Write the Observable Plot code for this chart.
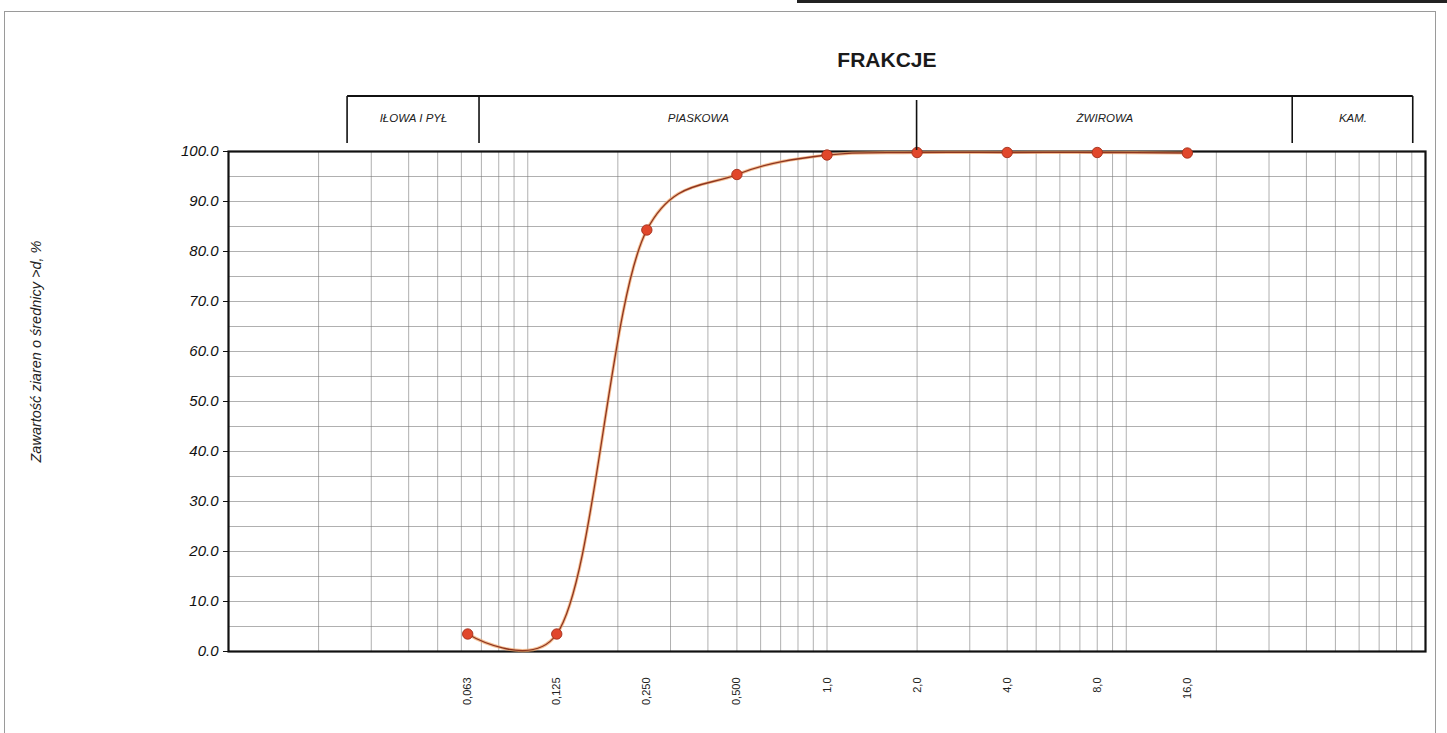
<!DOCTYPE html>
<html lang="pl">
<head>
<meta charset="utf-8">
<script src="https://cdn.jsdelivr.net/npm/d3@7"></script>
<script src="https://cdn.jsdelivr.net/npm/@observablehq/plot@0.6"></script>
<style>
  html, body { margin: 0; padding: 0; background: #fff; }
  #chart { position: relative; width: 1447px; height: 733px; overflow: hidden; }
  #chart svg { display: block; }
</style>
</head>
<body>
<div id="chart"></div>
<script>
// Sieve diameters d [mm] and grain content [%]
const diameters = [0.063, 0.125, 0.25, 0.5, 1.0, 2.0, 4.0, 8.0, 16.0];
const content   = [3.5, 3.5, 84.3, 95.4, 99.3, 99.8, 99.8, 99.8, 99.7];

// Diameter tick labels (Polish decimal comma)
const diameterLabels = ["0,063", "0,125", "0,250", "0,500", "1,0", "2,0", "4,0", "8,0", "16,0"];

// Y axis ticks
const yTicks = [0, 10, 20, 30, 40, 50, 60, 70, 80, 90, 100];
const yGrid  = [5, 10, 15, 20, 25, 30, 35, 40, 45, 50, 55, 60, 65, 70, 75, 80, 85, 90, 95];

// Fraction bands shown in the header bracket
const fractionNames = ["IŁOWA I PYŁ", "PIASKOWA", "ŻWIROWA", "KAM."];
const fractionEdges = [0.025, 0.069, 2.0, 36, 91];

const title  = "FRAKCJE";
const yTitle = "Zawartość ziaren o średnicy >d, %";

const points = diameters.map((d, i) => ({d, p: content[i]}));
const ticks  = diameters.map((d, i) => ({d, label: diameterLabels[i]}));
const bands  = fractionNames.map((name, i) => ({
  name, mid: Math.sqrt(fractionEdges[i] * fractionEdges[i + 1])
}));

const font = "'Liberation Sans', Arial, Helvetica, sans-serif";

const chart = Plot.plot({
  width: 1447,
  height: 733,
  marginLeft: 228,
  marginRight: 22,
  marginTop: 151,
  marginBottom: 82,
  style: {fontFamily: font, background: "#fff", color: "#111", overflow: "visible"},
  x: {type: "log", domain: [0.01, 100], axis: null},
  y: {domain: [0, 100], axis: null},
  marks: [
    Plot.gridX({ticks: 40, stroke: "#7a7a7a", strokeOpacity: 0.7, strokeWidth: 0.85}),
    Plot.gridY(yGrid, {stroke: "#7a7a7a", strokeOpacity: 0.7, strokeWidth: 0.85}),
    Plot.axisY(yTicks, {
      tickFormat: d => d.toFixed(1),
      fontSize: 15, fontStyle: "italic", tickSize: 5, tickPadding: 5,
      label: null, stroke: "#111"
    }),
    Plot.frame({stroke: "#111", strokeWidth: 2.2}),
    // diameter labels under the plot, rotated
    Plot.text(ticks, {
      x: "d", text: "label", frameAnchor: "bottom", dy: 26,
      rotate: -90, textAnchor: "end", lineAnchor: "middle",
      fontSize: 11, fill: "#222"
    }),
    // y axis title
    Plot.text([yTitle], {
      frameAnchor: "left", dx: -192, dy: -50, rotate: -90,
      textAnchor: "middle", lineAnchor: "middle",
      fontSize: 14.5, fontStyle: "italic", fill: "#222"
    }),
    // fraction names
    Plot.text(bands, {
      x: "mid", text: "name", frameAnchor: "top", dy: -38,
      fontSize: 11.5, fontStyle: "italic", fill: "#222"
    }),
    // grading curve: soft halo + core line
    Plot.line(points, {
      x: "d", y: "p", curve: "catmull-rom", tension: 0.25,
      stroke: "#f0a264", strokeWidth: 3.2, strokeOpacity: 0.7
    }),
    Plot.line(points, {
      x: "d", y: "p", curve: "catmull-rom", tension: 0.25,
      stroke: "#8e3520", strokeWidth: 1.3
    }),
    Plot.dot(points, {
      x: "d", y: "p", r: 5.2, fill: "#e1472b", stroke: "#a3301c", strokeWidth: 0.9
    })
  ]
});

document.getElementById("chart").appendChild(chart);

// Header bracket above the plot, positioned through the x scale
const sx = chart.scale("x");
const svg = d3.select(chart);
const ex = fractionEdges.map(v => sx.apply(v));
const g = svg.append("g").attr("stroke", "#111").attr("fill", "none");
g.append("line")
  .attr("x1", ex[0]).attr("x2", ex[ex.length - 1])
  .attr("y1", 96).attr("y2", 96).attr("stroke-width", 2);
ex.forEach((x, i) => {
  g.append("line")
    .attr("x1", x).attr("x2", x)
    .attr("y1", i === 2 ? 100 : 96).attr("y2", i === 2 ? 150 : 143)
    .attr("stroke-width", 1.6);
});
svg.append("text")
  .attr("x", (ex[0] + ex[ex.length - 1]) / 2 + 7).attr("y", 67)
  .attr("text-anchor", "middle")
  .attr("font-family", font).attr("font-weight", "bold").attr("font-size", 21)
  .attr("fill", "#1a1a1a")
  .text(title);

// Page border and the dark edge along the top right
svg.insert("rect", ":first-child")
  .attr("x", 4.5).attr("y", 11.5).attr("width", 1431).attr("height", 740)
  .attr("fill", "none").attr("stroke", "#9a9a9a").attr("stroke-width", 1);
svg.append("line")
  .attr("x1", 797).attr("x2", 1447).attr("y1", 1.5).attr("y2", 1.5)
  .attr("stroke", "#222").attr("stroke-width", 3);
</script>
</body>
</html>
